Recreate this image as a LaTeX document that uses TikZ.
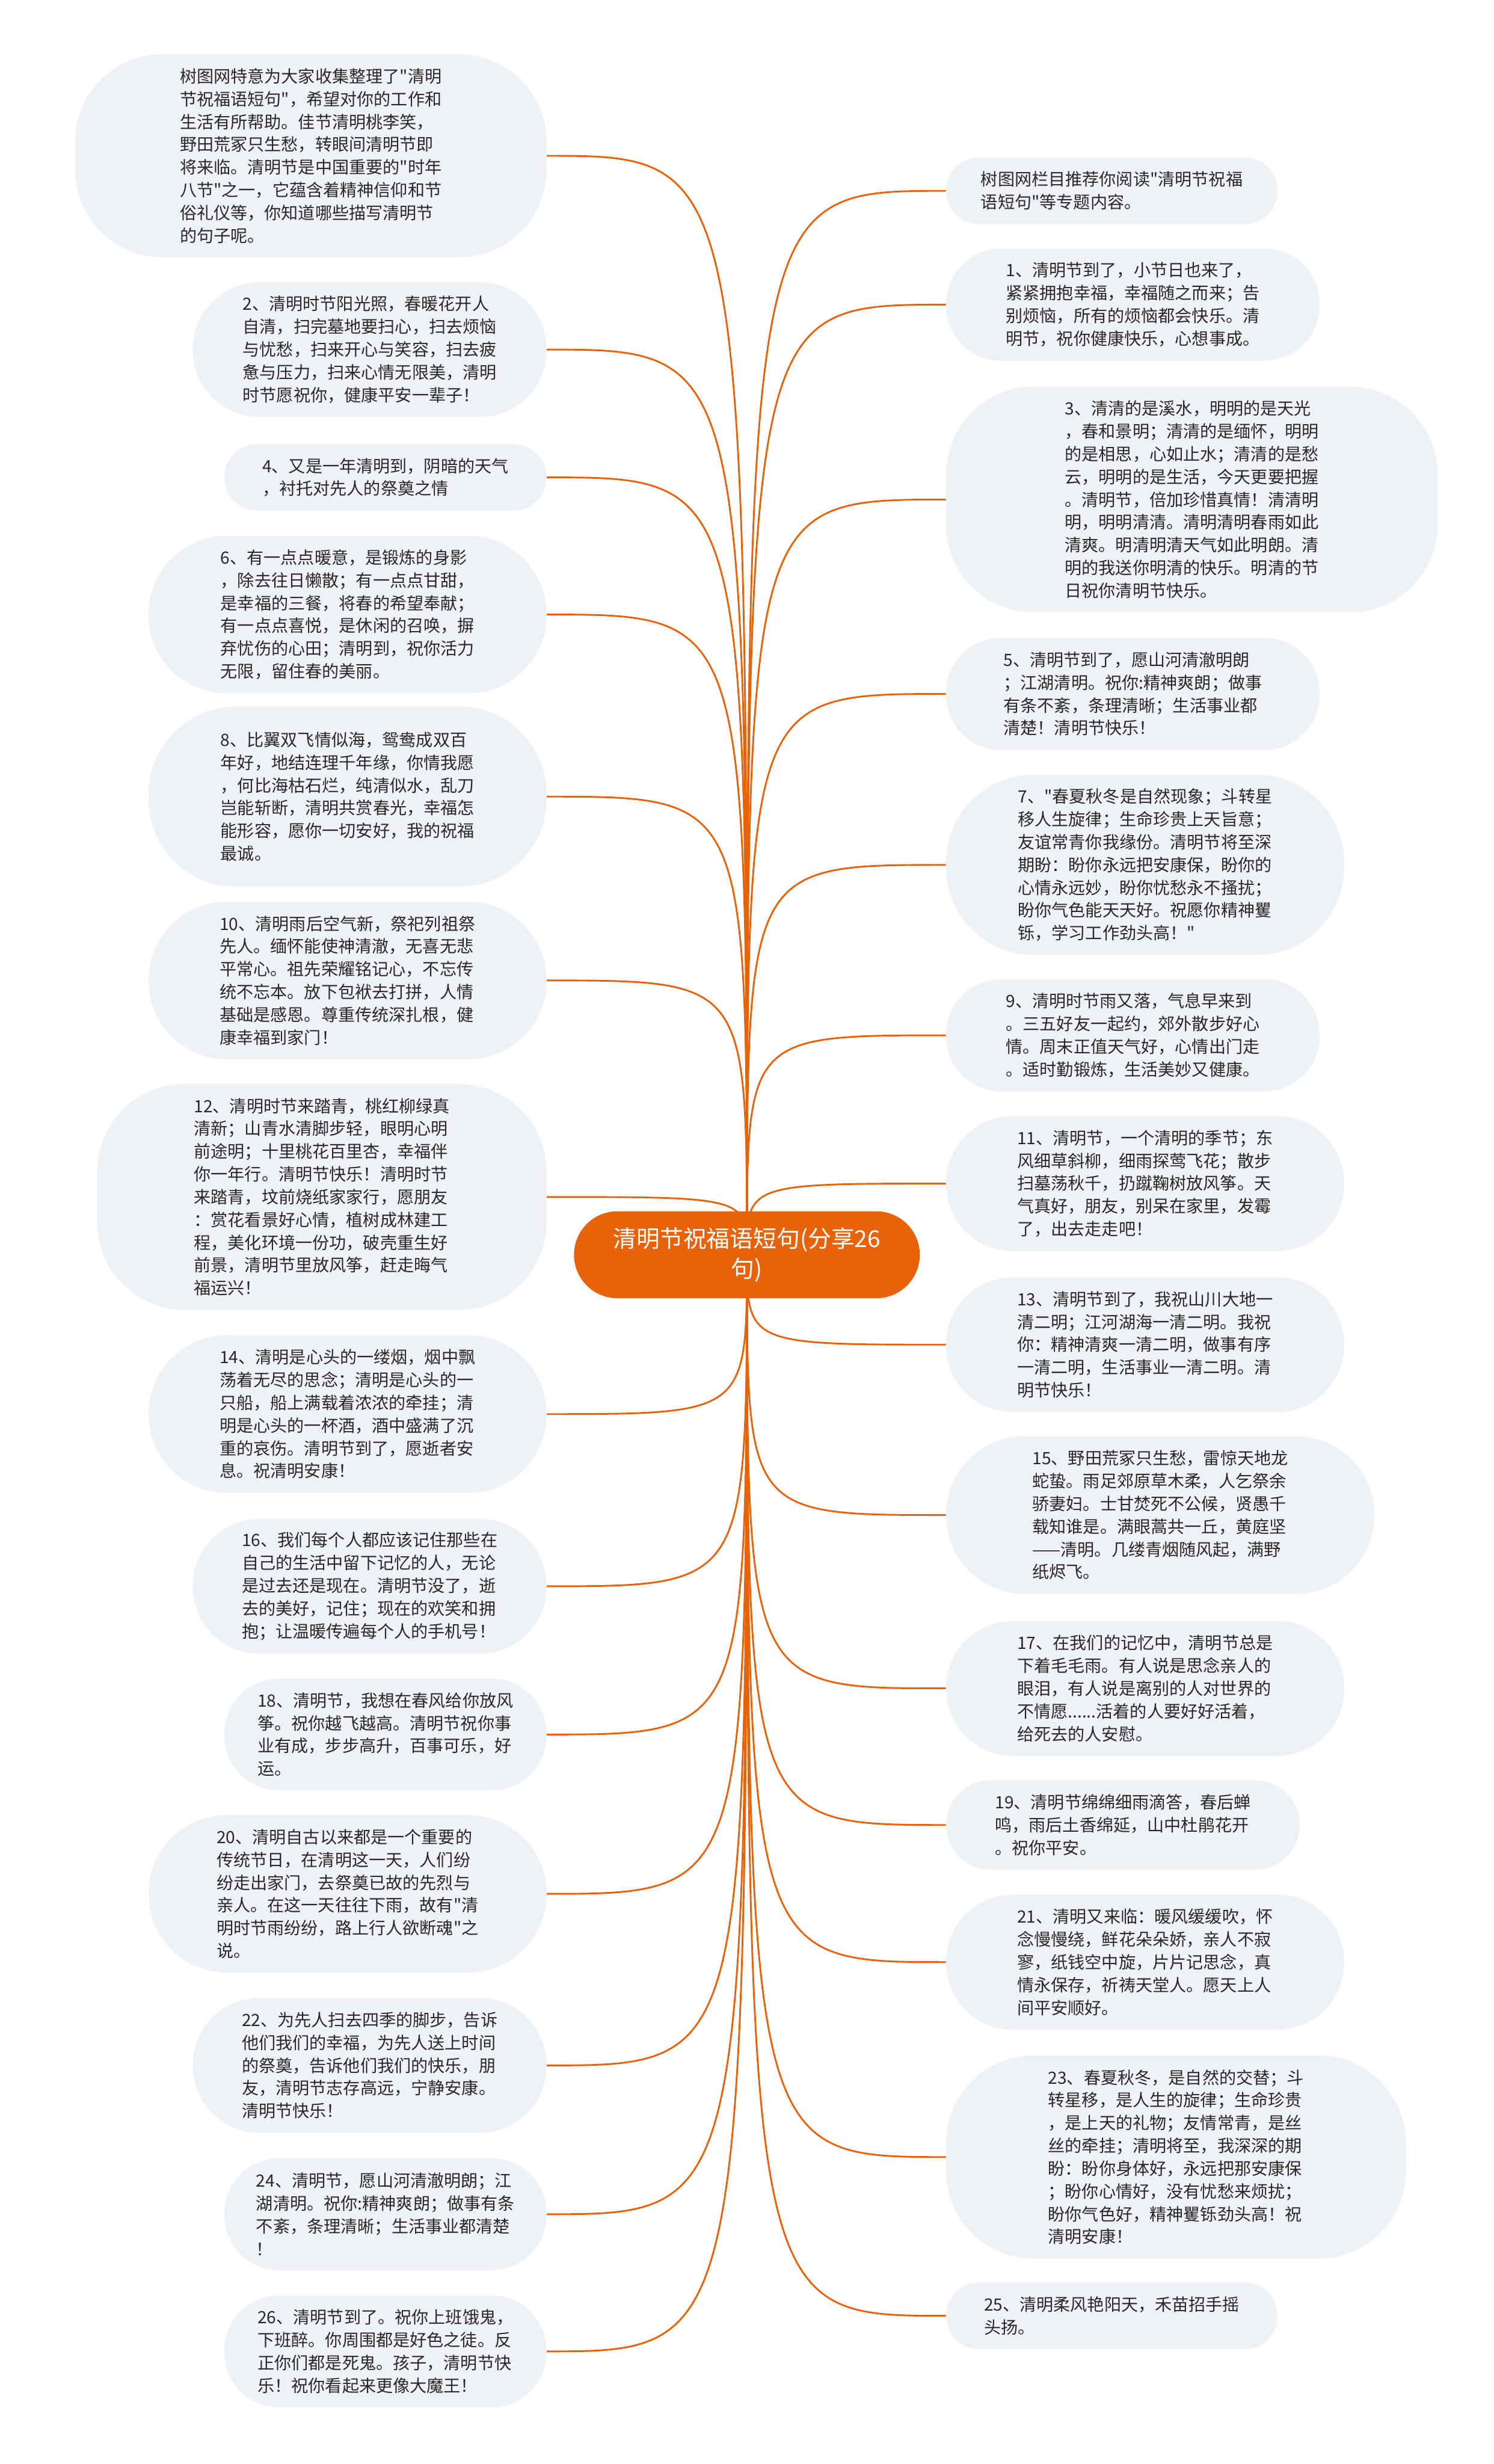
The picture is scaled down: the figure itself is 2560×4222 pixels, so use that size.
\documentclass[tikz,border=0pt]{standalone}
\usepackage{fontspec}
\newfontfamily\cjkfont{Noto Sans CJK SC}
\usetikzlibrary{shapes.misc,backgrounds}
\definecolor{naranja}{RGB}{232,98,10}
\definecolor{gris}{RGB}{238,241,245}
\definecolor{texto}{RGB}{40,40,40}
\begin{document}
\begin{tikzpicture}[x=0.5pt,y=-0.5pt]
    % Lienzo
    \useasboundingbox (0,0) rectangle (2560,4222);

    % Estilos del mapa: ancho, alto, radio
    \tikzset{
      hoja/.style n args={3}{
        rectangle, fill=gris, text=texto, align=left,
        font=\cjkfont\fontsize{14.5}{19.5}\selectfont,
        inner xsep=4pt, inner ysep=9pt,
        minimum width=#1, minimum height=#2, rounded corners=#3
      },
      hojaizq/.style n args={3}{hoja={#1}{#2}{#3}, anchor=east},
      hojader/.style n args={3}{hoja={#1}{#2}{#3}, anchor=west},
      raiz/.style={
        rounded rectangle, fill=naranja, text=white, align=center,
        font=\cjkfont\fontsize{20}{25.5}\selectfont,
        minimum width=303pt, minimum height=74.5pt
      },
      enlace/.style={draw=naranja, line width=1.5pt}
    }

    % Nodo central
    \node[raiz] (raiz) at (1280,2150) {清明节祝福语短句(分享26\\句)};

    % Columna izquierda
    \node[hojaizq={404pt}{174pt}{75pt}] (l0) at (937,267) {树图网特意为大家收集整理了"清明\\节祝福语短句"，希望对你的工作和\\生活有所帮助。佳节清明桃李笑，\\野田荒冢只生愁，转眼间清明节即\\将来临。清明节是中国重要的"时年\\八节"之一，它蕴含着精神信仰和节\\俗礼仪等，你知道哪些描写清明节\\的句子呢。};
    \node[hojaizq={303pt}{115.5pt}{57pt}] (l1) at (937,599) {2、清明时节阳光照，春暖花开人\\自清，扫完墓地要扫心，扫去烦恼\\与忧愁，扫来开心与笑容，扫去疲\\惫与压力，扫来心情无限美，清明\\时节愿祝你，健康平安一辈子！};
    \node[hojaizq={276pt}{57pt}{28pt}] (l2) at (937,818) {4、又是一年清明到，阴暗的天气\\，衬托对先人的祭奠之情};
    \node[hojaizq={341pt}{135pt}{67pt}] (l3) at (937,1053) {6、有一点点暖意，是锻炼的身影\\，除去往日懒散；有一点点甘甜，\\是幸福的三餐，将春的希望奉献；\\有一点点喜悦，是休闲的召唤，摒\\弃忧伤的心田；清明到，祝你活力\\无限，留住春的美丽。};
    \node[hojaizq={341pt}{154.5pt}{75pt}] (l4) at (937,1365) {8、比翼双飞情似海，鸳鸯成双百\\年好，地结连理千年缘，你情我愿\\，何比海枯石烂，纯清似水，乱刀\\岂能斩断，清明共赏春光，幸福怎\\能形容，愿你一切安好，我的祝福\\最诚。};
    \node[hojaizq={341pt}{135pt}{67pt}] (l5) at (937,1680) {10、清明雨后空气新，祭祀列祖祭\\先人。缅怀能使神清澈，无喜无悲\\平常心。祖先荣耀铭记心，不忘传\\统不忘本。放下包袱去打拼，人情\\基础是感恩。尊重传统深扎根，健\\康幸福到家门！};
    \node[hojaizq={385pt}{193.5pt}{75pt}] (l6) at (937,2051) {12、清明时节来踏青，桃红柳绿真\\清新；山青水清脚步轻，眼明心明\\前途明；十里桃花百里杏，幸福伴\\你一年行。清明节快乐！清明时节\\来踏青，坟前烧纸家家行，愿朋友\\：赏花看景好心情，植树成林建工\\程，美化环境一份功，破壳重生好\\前景，清明节里放风筝，赶走晦气\\福运兴！};
    \node[hojaizq={341pt}{135pt}{67pt}] (l7) at (937,2423) {14、清明是心头的一缕烟，烟中飘\\荡着无尽的思念；清明是心头的一\\只船，船上满载着浓浓的牵挂；清\\明是心头的一杯酒，酒中盛满了沉\\重的哀伤。清明节到了，愿逝者安\\息。祝清明安康！};
    \node[hojaizq={303pt}{115.5pt}{57pt}] (l8) at (937,2718) {16、我们每个人都应该记住那些在\\自己的生活中留下记忆的人，无论\\是过去还是现在。清明节没了，逝\\去的美好，记住；现在的欢笑和拥\\抱；让温暖传遍每个人的手机号！};
    \node[hojaizq={276pt}{96pt}{47pt}] (l9) at (937,2972) {18、清明节，我想在春风给你放风\\筝。祝你越飞越高。清明节祝你事\\业有成，步步高升，百事可乐，好\\运。};
    \node[hojaizq={341pt}{135pt}{67pt}] (l10) at (937,3245) {20、清明自古以来都是一个重要的\\传统节日，在清明这一天，人们纷\\纷走出家门，去祭奠已故的先烈与\\亲人。在这一天往往下雨，故有"清\\明时节雨纷纷，路上行人欲断魂"之\\说。};
    \node[hojaizq={303pt}{115.5pt}{57pt}] (l11) at (937,3539) {22、为先人扫去四季的脚步，告诉\\他们我们的幸福，为先人送上时间\\的祭奠，告诉他们我们的快乐，朋\\友，清明节志存高远，宁静安康。\\清明节快乐！};
    \node[hojaizq={276pt}{96pt}{47pt}] (l12) at (937,3794) {24、清明节，愿山河清澈明朗；江\\湖清明。祝你:精神爽朗；做事有条\\不紊，条理清晰；生活事业都清楚\\！};
    \node[hojaizq={276pt}{96pt}{47pt}] (l13) at (937,4029) {26、清明节到了。祝你上班饿鬼，\\下班醉。你周围都是好色之徒。反\\正你们都是死鬼。孩子，清明节快\\乐！祝你看起来更像大魔王！};

    % Columna derecha
    \node[hojader={284pt}{57pt}{28pt}] (r0) at (1621,327) {树图网栏目推荐你阅读"清明节祝福\\语短句"等专题内容。};
    \node[hojader={320pt}{96pt}{47pt}] (r1) at (1621,522) {1、清明节到了，小节日也来了，\\紧紧拥抱幸福，幸福随之而来；告\\别烦恼，所有的烦恼都会快乐。清\\明节，祝你健康快乐，心想事成。};
    \node[hojader={421pt}{193.5pt}{75pt}] (r2) at (1621,856) {3、清清的是溪水，明明的是天光\\，春和景明；清清的是缅怀，明明\\的是相思，心如止水；清清的是愁\\云，明明的是生活，今天更要把握\\。清明节，倍加珍惜真情！清清明\\明，明明清清。清明清明春雨如此\\清爽。明清明清天气如此明朗。清\\明的我送你明清的快乐。明清的节\\日祝你清明节快乐。};
    \node[hojader={320pt}{96pt}{47pt}] (r3) at (1621,1189) {5、清明节到了，愿山河清澈明朗\\；江湖清明。祝你:精神爽朗；做事\\有条不紊，条理清晰；生活事业都\\清楚！清明节快乐！};
    \node[hojader={341pt}{154.5pt}{75pt}] (r4) at (1621,1482) {7、"春夏秋冬是自然现象；斗转星\\移人生旋律；生命珍贵上天旨意；\\友谊常青你我缘份。清明节将至深\\期盼：盼你永远把安康保，盼你的\\心情永远妙，盼你忧愁永不搔扰；\\盼你气色能天天好。祝愿你精神矍\\铄，学习工作劲头高！"};
    \node[hojader={320pt}{96pt}{47pt}] (r5) at (1621,1774) {9、清明时节雨又落，气息早来到\\。三五好友一起约，郊外散步好心\\情。周末正值天气好，心情出门走\\。适时勤锻炼，生活美妙又健康。};
    \node[hojader={341pt}{115.5pt}{57pt}] (r6) at (1621,2028) {11、清明节，一个清明的季节；东\\风细草斜柳，细雨探莺飞花；散步\\扫墓荡秋千，扔蹴鞠树放风筝。天\\气真好，朋友，别呆在家里，发霉\\了，出去走走吧！};
    \node[hojader={341pt}{115.5pt}{57pt}] (r7) at (1621,2304) {13、清明节到了，我祝山川大地一\\清二明；江河湖海一清二明。我祝\\你：精神清爽一清二明，做事有序\\一清二明，生活事业一清二明。清\\明节快乐！};
    \node[hojader={367pt}{135pt}{67pt}] (r8) at (1621,2596) {15、野田荒冢只生愁，雷惊天地龙\\蛇蛰。雨足郊原草木柔，人乞祭余\\骄妻妇。士甘焚死不公候，贤愚千\\载知谁是。满眼蒿共一丘，黄庭坚\\——清明。几缕青烟随风起，满野\\纸烬飞。};
    \node[hojader={341pt}{115.5pt}{57pt}] (r9) at (1621,2893) {17、在我们的记忆中，清明节总是\\下着毛毛雨。有人说是思念亲人的\\眼泪，有人说是离别的人对世界的\\不情愿......活着的人要好好活着，\\给死去的人安慰。};
    \node[hojader={303pt}{76.5pt}{38pt}] (r10) at (1621,3127) {19、清明节绵绵细雨滴答，春后蝉\\鸣，雨后土香绵延，山中杜鹃花开\\。祝你平安。};
    \node[hojader={341pt}{115.5pt}{57pt}] (r11) at (1621,3362) {21、清明又来临：暖风缓缓吹，怀\\念慢慢绕，鲜花朵朵娇，亲人不寂\\寥，纸钱空中旋，片片记思念，真\\情永保存，祈祷天堂人。愿天上人\\间平安顺好。};
    \node[hojader={394pt}{174pt}{75pt}] (r12) at (1621,3696) {23、春夏秋冬，是自然的交替；斗\\转星移，是人生的旋律；生命珍贵\\，是上天的礼物；友情常青，是丝\\丝的牵挂；清明将至，我深深的期\\盼：盼你身体好，永远把那安康保\\；盼你心情好，没有忧愁来烦扰；\\盼你气色好，精神矍铄劲头高！祝\\清明安康！};
    \node[hojader={284pt}{57pt}{28pt}] (r13) at (1621,3968) {25、清明柔风艳阳天，禾苗招手摇\\头扬。};

    % Enlaces desde el centro
    \begin{scope}[on background layer]
      \foreach \i in {0,...,13} {
        \draw[enlace] (raiz.center) .. controls (raiz.center |- l\i.east) .. (l\i.east);
        \draw[enlace] (raiz.center) .. controls (raiz.center |- r\i.west) .. (r\i.west);
      }
    \end{scope}
  \end{tikzpicture}
\end{document}
